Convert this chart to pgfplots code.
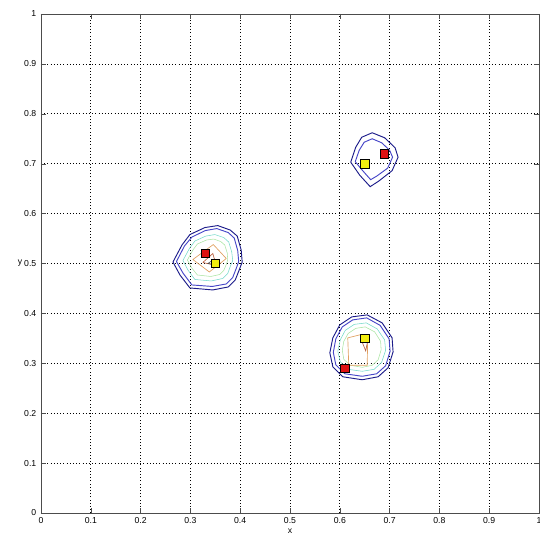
\documentclass[border=0pt]{standalone}
\usepackage{pgfplots}
\pgfplotsset{compat=1.18}
\usepackage{fontspec}
\setmainfont{Liberation Sans}
\usetikzlibrary{calc}
\definecolor{cnavy}{HTML}{1C1C8A}
\definecolor{cblue}{HTML}{4646C8}
\definecolor{ccyan}{HTML}{70D8C8}
\definecolor{cgreen}{HTML}{A8E4A0}
\definecolor{corange}{HTML}{E0A060}
\definecolor{cbrown}{HTML}{B86040}
\definecolor{cred}{HTML}{DD1111}
\definecolor{cyel}{HTML}{F2EE10}
\begin{document}
\begin{tikzpicture}
\begin{axis}[name=ax, scale only axis, width=373.5pt, height=374.25pt,
  xmin=0, xmax=1, ymin=0, ymax=1,
  xtick={0,0.1,0.2,0.3,0.4,0.5,0.6,0.7,0.8,0.9,1},
  ytick={0,0.1,0.2,0.3,0.4,0.5,0.6,0.7,0.8,0.9,1},
  grid=major, major grid style={dotted, black, line width=0.5pt},
  tick align=inside, major tick length=3.5pt, tick style={black!70},
  axis line style={black!70},
  ticklabel style={font=\fontsize{6.5}{7}\selectfont},
  /pgf/number format/assume math mode=true,
  xlabel={x}, ylabel={y},
  label style={font=\fontsize{6.5}{7}\selectfont},
  xlabel style={at={(axis description cs:0.5,0)}, anchor=center, yshift=-14pt},
  ylabel style={at={(axis description cs:0,0.5)}, anchor=center, rotate=-90, xshift=-15.75pt},
]
% cluster 1
\addplot[cnavy, line width=0.7pt] coordinates {(0.265,0.503)(0.283,0.537)(0.299,0.558)(0.329,0.572)(0.355,0.576)(0.380,0.567)(0.394,0.555)(0.402,0.527)(0.404,0.503)(0.398,0.487)(0.390,0.467)(0.376,0.453)(0.345,0.447)(0.299,0.451)(0.279,0.477)(0.265,0.503)};
\addplot[cblue, line width=0.7pt] coordinates {(0.272,0.504)(0.288,0.535)(0.303,0.553)(0.330,0.566)(0.353,0.570)(0.376,0.562)(0.388,0.551)(0.395,0.526)(0.397,0.504)(0.392,0.490)(0.385,0.472)(0.372,0.459)(0.344,0.454)(0.303,0.457)(0.285,0.481)(0.272,0.504)};
\addplot[ccyan, line width=0.4pt] coordinates {(0.285,0.506)(0.298,0.530)(0.309,0.545)(0.331,0.555)(0.349,0.558)(0.367,0.552)(0.377,0.543)(0.383,0.523)(0.385,0.506)(0.380,0.494)(0.375,0.480)(0.365,0.470)(0.342,0.465)(0.309,0.468)(0.295,0.487)(0.285,0.506)};
\addplot[cgreen, line width=0.4pt] coordinates {(0.294,0.507)(0.305,0.527)(0.314,0.539)(0.332,0.547)(0.347,0.549)(0.361,0.544)(0.369,0.537)(0.374,0.521)(0.375,0.507)(0.372,0.498)(0.367,0.486)(0.359,0.478)(0.341,0.474)(0.314,0.477)(0.302,0.492)(0.294,0.507)};
\addplot[corange, line width=0.5pt] coordinates {(0.305,0.508)(0.346,0.538)(0.372,0.510)(0.338,0.483)(0.305,0.508)};
\addplot[cbrown, line width=0.5pt] coordinates {(0.325,0.502)(0.345,0.520)(0.352,0.496)(0.325,0.502)};
\addplot[black!70, line width=0.4pt] coordinates {(0.335,0.500)(0.347,0.508)(0.350,0.498)(0.335,0.500)};
% cluster 2
\addplot[cnavy, line width=0.7pt] coordinates {(0.600,0.377)(0.624,0.393)(0.655,0.397)(0.685,0.381)(0.705,0.351)(0.707,0.323)(0.697,0.291)(0.677,0.273)(0.645,0.267)(0.606,0.273)(0.586,0.293)(0.580,0.321)(0.586,0.351)(0.600,0.377)};
\addplot[cblue, line width=0.7pt] coordinates {(0.605,0.373)(0.626,0.387)(0.654,0.391)(0.681,0.376)(0.699,0.349)(0.701,0.324)(0.692,0.295)(0.674,0.279)(0.645,0.274)(0.610,0.279)(0.592,0.297)(0.587,0.322)(0.592,0.349)(0.605,0.373)};
\addplot[ccyan, line width=0.4pt] coordinates {(0.611,0.366)(0.629,0.378)(0.653,0.381)(0.675,0.369)(0.690,0.347)(0.692,0.326)(0.684,0.302)(0.669,0.288)(0.645,0.284)(0.616,0.288)(0.601,0.303)(0.596,0.324)(0.601,0.347)(0.611,0.366)};
\addplot[cgreen, line width=0.4pt] coordinates {(0.617,0.360)(0.632,0.370)(0.651,0.373)(0.670,0.363)(0.682,0.344)(0.683,0.327)(0.677,0.307)(0.665,0.296)(0.645,0.292)(0.621,0.296)(0.608,0.308)(0.605,0.326)(0.608,0.344)(0.617,0.360)};
\addplot[corange, line width=0.5pt] coordinates {(0.616,0.351)(0.644,0.358)(0.656,0.348)(0.655,0.296)(0.618,0.296)(0.616,0.351)};
\addplot[cbrown, line width=0.5pt] coordinates {(0.644,0.345)(0.652,0.325)(0.656,0.345)(0.644,0.345)};
% cluster 3
\addplot[cnavy, line width=0.7pt] coordinates {(0.622,0.703)(0.632,0.733)(0.644,0.753)(0.665,0.762)(0.690,0.752)(0.711,0.732)(0.717,0.713)(0.705,0.686)(0.678,0.665)(0.661,0.654)(0.640,0.677)(0.622,0.703)};
\addplot[cblue, line width=0.7pt] coordinates {(0.631,0.704)(0.639,0.727)(0.649,0.743)(0.665,0.750)(0.684,0.742)(0.700,0.727)(0.706,0.713)(0.696,0.691)(0.674,0.675)(0.662,0.668)(0.646,0.686)(0.631,0.704)};
% markers
\addplot[only marks, mark=square*, mark size=3.2pt, mark options={fill=cred, draw=black, line width=0.6pt}] coordinates {(0.33,0.52)(0.61,0.29)(0.69,0.72)};
\addplot[only marks, mark=square*, mark size=3.2pt, mark options={fill=cyel, draw=black, line width=0.6pt}] coordinates {(0.35,0.50)(0.65,0.35)(0.65,0.70)};
\end{axis}
\pgfresetboundingbox
\path ($(ax.south west)+(-30.75pt,-20.25pt)$) rectangle ($(ax.north east)+(0.75pt,10.5pt)$);
\end{tikzpicture}
\end{document}
